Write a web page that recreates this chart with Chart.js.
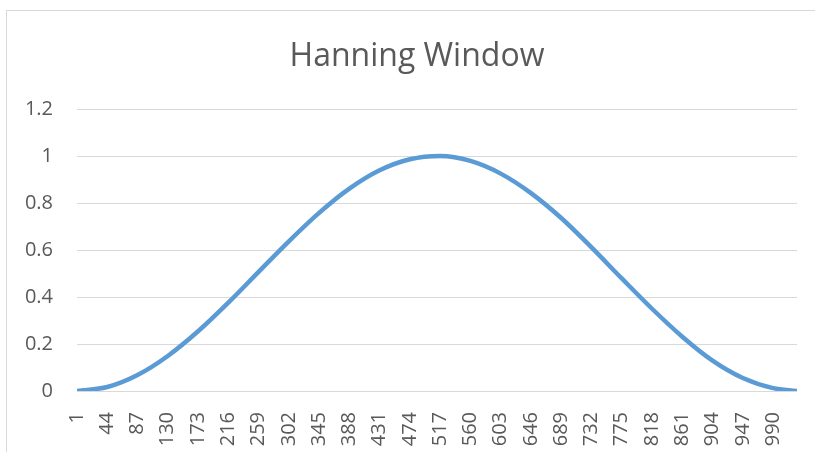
<!DOCTYPE html>
<html>
<head>
<meta charset="utf-8">
<script src="https://cdn.jsdelivr.net/npm/chart.js@4/dist/chart.umd.min.js"></script>
<style>
    html, body { margin: 0; padding: 0; background: #fff; overflow: hidden; }
    #frame { position: absolute; left: 6px; top: 10px; width: 860px; height: 500px; border: 1px solid #d9d9d9; }
    #wrap { position: absolute; left: 0; top: 0; width: 815px; height: 452px; }
</style>
</head>
<body>
<div id="frame"></div>
<div id="wrap"><canvas id="hannChart"></canvas></div>
<script>
// sample index (x) and window value
const sampleIndex = [1, 44, 87, 130, 173, 216, 259, 302, 345, 388, 431, 474, 517,
    560, 603, 646, 689, 732, 775, 818, 861, 904, 947, 990, 1024];
const windowValue = [0, 0.017, 0.068, 0.149, 0.254, 0.376, 0.507, 0.637, 0.758, 0.861, 0.939, 0.986, 1.0,
    0.979, 0.925, 0.842, 0.736, 0.611, 0.479, 0.350, 0.231, 0.129, 0.055, 0.012, 0];
const xTickLabels = [1, 44, 87, 130, 173, 216, 259, 302, 345, 388, 431, 474, 517,
    560, 603, 646, 689, 732, 775, 818, 861, 904, 947, 990];
const yTickValues = [0, 0.2, 0.4, 0.6, 0.8, 1, 1.2];

const TEXT = "#595959";
const GRID = "#d9d9d9";
const FONT = "'Open Sans', 'Noto Sans', sans-serif";

// the title sits centred on the whole frame, not on the padded box
const centreTitle = {
    id: "centreTitle",
    afterLayout(chart) {
        if (!chart.titleBlock) return;
        chart.titleBlock.left = 0;
        chart.titleBlock.right = 834;
    },
};

const canvas = document.getElementById("hannChart");
new Chart(canvas, {
    type: "line",
    data: {
        datasets: [{
            label: "Hanning",
            data: sampleIndex.map((x, i) => ({ x, y: windowValue[i] })),
            borderColor: "#5b9bd5",
            borderWidth: 4.5,
            pointRadius: 0,
            cubicInterpolationMode: "monotone",
            fill: false,
        }],
    },
    options: {
        responsive: true,
        maintainAspectRatio: false,
        animation: false,
        layout: { padding: { left: 0, right: 18, top: 0, bottom: 0 } },
        plugins: {
            legend: { display: false },
            tooltip: { enabled: false },
            title: {
                display: true,
                text: "Hanning Window",
                color: TEXT,
                font: { family: FONT, size: 32, weight: "normal", lineHeight: 1.2 },
                padding: { top: 38, bottom: 32.6 },
            },
        },
        scales: {
            x: {
                type: "linear",
                min: 1,
                max: 1024,
                afterBuildTicks: (scale) => { scale.ticks = xTickLabels.map((v) => ({ value: v })); },
                afterFit: (scale) => { scale.height = 61; },
                ticks: {
                    color: TEXT,
                    font: { family: FONT, size: 20 },
                    minRotation: 90,
                    maxRotation: 90,
                    autoSkip: false,
                    padding: 13,
                    callback: (v) => String(v),
                },
                grid: { display: false },
                border: { display: false },
            },
            y: {
                min: 0,
                max: 1.2,
                afterBuildTicks: (scale) => { scale.ticks = yTickValues.map((v) => ({ value: v })); },
                afterFit: (scale) => { scale.width = 77; },
                ticks: {
                    color: TEXT,
                    font: { family: FONT, size: 20 },
                    padding: 24,
                    callback: (v) => String(Number(v.toFixed(1))),
                },
                grid: { color: GRID, lineWidth: 1, drawTicks: false },
                border: { display: false },
            },
        },
    },
    plugins: [centreTitle],
});
</script>
</body>
</html>
